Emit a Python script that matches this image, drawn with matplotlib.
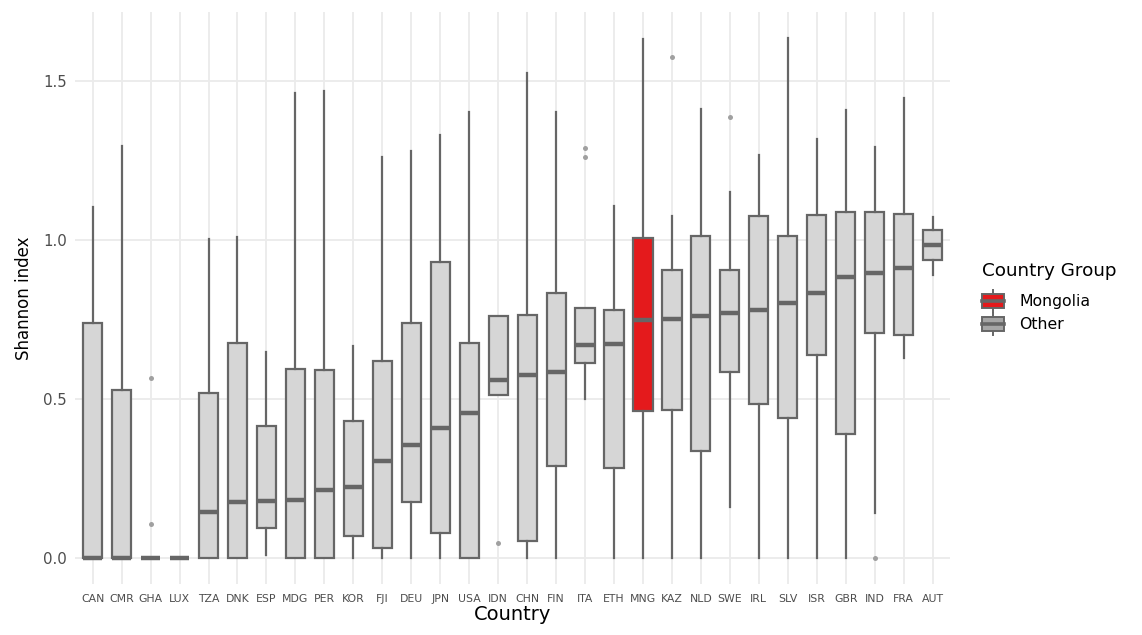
import matplotlib
matplotlib.use("Agg")
import matplotlib.pyplot as plt
from matplotlib.legend_handler import HandlerBase
from matplotlib.patches import Rectangle, Patch
from matplotlib.lines import Line2D

# values (Shannon index per country)
countries = ["CAN", "CMR", "GHA", "LUX", "TZA", "DNK", "ESP", "MDG", "PER", "KOR",
             "FJI", "DEU", "JPN", "USA", "IDN", "CHN", "FIN", "ITA", "ETH", "MNG",
             "KAZ", "NLD", "SWE", "IRL", "SLV", "ISR", "GBR", "IND", "FRA", "AUT"]
whislo = [0, 0, 0, 0, 0, 0, 0.010, 0, 0, 0,
          0, 0, 0, 0, 0.513, 0, 0, 0.499, 0, 0,
          0, 0, 0.161, 0, 0, 0, 0, 0.141, 0.628, 0.892]
q1 = [0, 0, 0, 0, 0, 0, 0.093, 0, 0, 0.068,
      0.030, 0.177, 0.080, 0, 0.513, 0.054, 0.289, 0.615, 0.282, 0.463,
      0.466, 0.337, 0.585, 0.483, 0.440, 0.640, 0.390, 0.708, 0.701, 0.937]
med = [0, 0, 0, 0, 0.144, 0.175, 0.178, 0.181, 0.214, 0.222,
       0.304, 0.355, 0.410, 0.457, 0.559, 0.575, 0.586, 0.670, 0.673, 0.748,
       0.752, 0.760, 0.770, 0.780, 0.802, 0.834, 0.883, 0.898, 0.913, 0.984]
q3 = [0.741, 0.530, 0, 0, 0.520, 0.676, 0.414, 0.594, 0.592, 0.432,
      0.620, 0.740, 0.931, 0.678, 0.761, 0.766, 0.833, 0.788, 0.780, 1.008,
      0.905, 1.013, 0.906, 1.075, 1.014, 1.078, 1.088, 1.090, 1.082, 1.031]
whishi = [1.105, 1.297, 0, 0, 1.004, 1.009, 0.649, 1.464, 1.471, 0.667,
          1.262, 1.282, 1.332, 1.403, 0.761, 1.525, 1.403, 0.788, 1.108, 1.634,
          1.075, 1.414, 1.152, 1.269, 1.636, 1.319, 1.409, 1.293, 1.447, 1.074]
outliers = {"GHA": [0.567, 0.108], "IDN": [0.046], "ITA": [1.290, 1.263],
            "KAZ": [1.576], "SWE": [1.388], "IND": [0.0]}
highlight = "MNG"

EDGE = "#666666"
GREY_FILL = "#D6D6D6"
RED = "#E41A1C"
GRID = "#EBEBEB"

fig = plt.figure(figsize=(11.42, 6.35), dpi=100)
ax = fig.add_axes([0.0659, 0.0803, 0.766, 0.9007])

stats = []
for i, c in enumerate(countries):
    stats.append(dict(label=c, whislo=whislo[i], q1=q1[i], med=med[i],
                      q3=q3[i], whishi=whishi[i], fliers=outliers.get(c, [])))

bp = ax.bxp(stats, positions=range(len(countries)), widths=0.66,
            patch_artist=True, showcaps=False,
            boxprops=dict(edgecolor=EDGE, linewidth=1.6),
            whiskerprops=dict(color=EDGE, linewidth=1.6),
            medianprops=dict(color=EDGE, linewidth=3.2, solid_capstyle="butt"),
            flierprops=dict(marker="o", markersize=3.6, markerfacecolor="#A0A0A0",
                            markeredgecolor="none"))
for box, c in zip(bp["boxes"], countries):
    box.set_facecolor(RED if c == highlight else GREY_FILL)

ax.set_xlim(-0.6, len(countries) - 0.4)
ax.set_ylim(-0.082, 1.718)
ax.set_yticks([0, 0.5, 1.0, 1.5])
ax.set_yticklabels(["0.0", "0.5", "1.0", "1.5"])
ax.grid(True, color=GRID, linewidth=1.3)
ax.set_axisbelow(True)
for s in ax.spines.values():
    s.set_visible(False)
ax.tick_params(axis="both", length=0, colors="#4D4D4D")
ax.tick_params(axis="x", labelsize=7.8, pad=7)
ax.tick_params(axis="y", labelsize=10.8, pad=6)
ax.set_xlabel("Country", fontsize=14, labelpad=1)
ax.set_ylabel("Shannon index", fontsize=12, labelpad=7)


class BoxKey(HandlerBase):
    def create_artists(self, legend, orig_handle, xdescent, ydescent,
                       width, height, fontsize, trans):
        x0, y0 = -xdescent, -ydescent
        h = height
        r = Rectangle((x0, y0 + h * 0.18), width, h * 0.64,
                      facecolor=orig_handle.get_facecolor(), edgecolor=EDGE,
                      linewidth=1.4, transform=trans)
        m = Line2D([x0, x0 + width], [y0 + h / 2] * 2, color=EDGE,
                   linewidth=2.6, transform=trans)
        w1 = Line2D([x0 + width / 2] * 2, [y0, y0 + h * 0.18], color=EDGE,
                    linewidth=1.4, transform=trans)
        w2 = Line2D([x0 + width / 2] * 2, [y0 + h * 0.82, y0 + h], color=EDGE,
                    linewidth=1.4, transform=trans)
        return [r, m, w1, w2]


handles = [Patch(facecolor=RED), Patch(facecolor="#A6A6A6")]
leg = fig.legend(handles, ["Mongolia", "Other"], title="Country Group",
                 loc="upper left", bbox_to_anchor=(0.854, 0.597),
                 frameon=False, fontsize=11.3, title_fontsize=13.2,
                 handler_map={Patch: BoxKey()}, handlelength=1.45,
                 handleheight=1.75, handletextpad=0.95, labelspacing=0.08,
                 borderaxespad=0)
leg._legend_box.align = "left"
leg._legend_box.sep = 7

fig.savefig("out.png", dpi=100)
